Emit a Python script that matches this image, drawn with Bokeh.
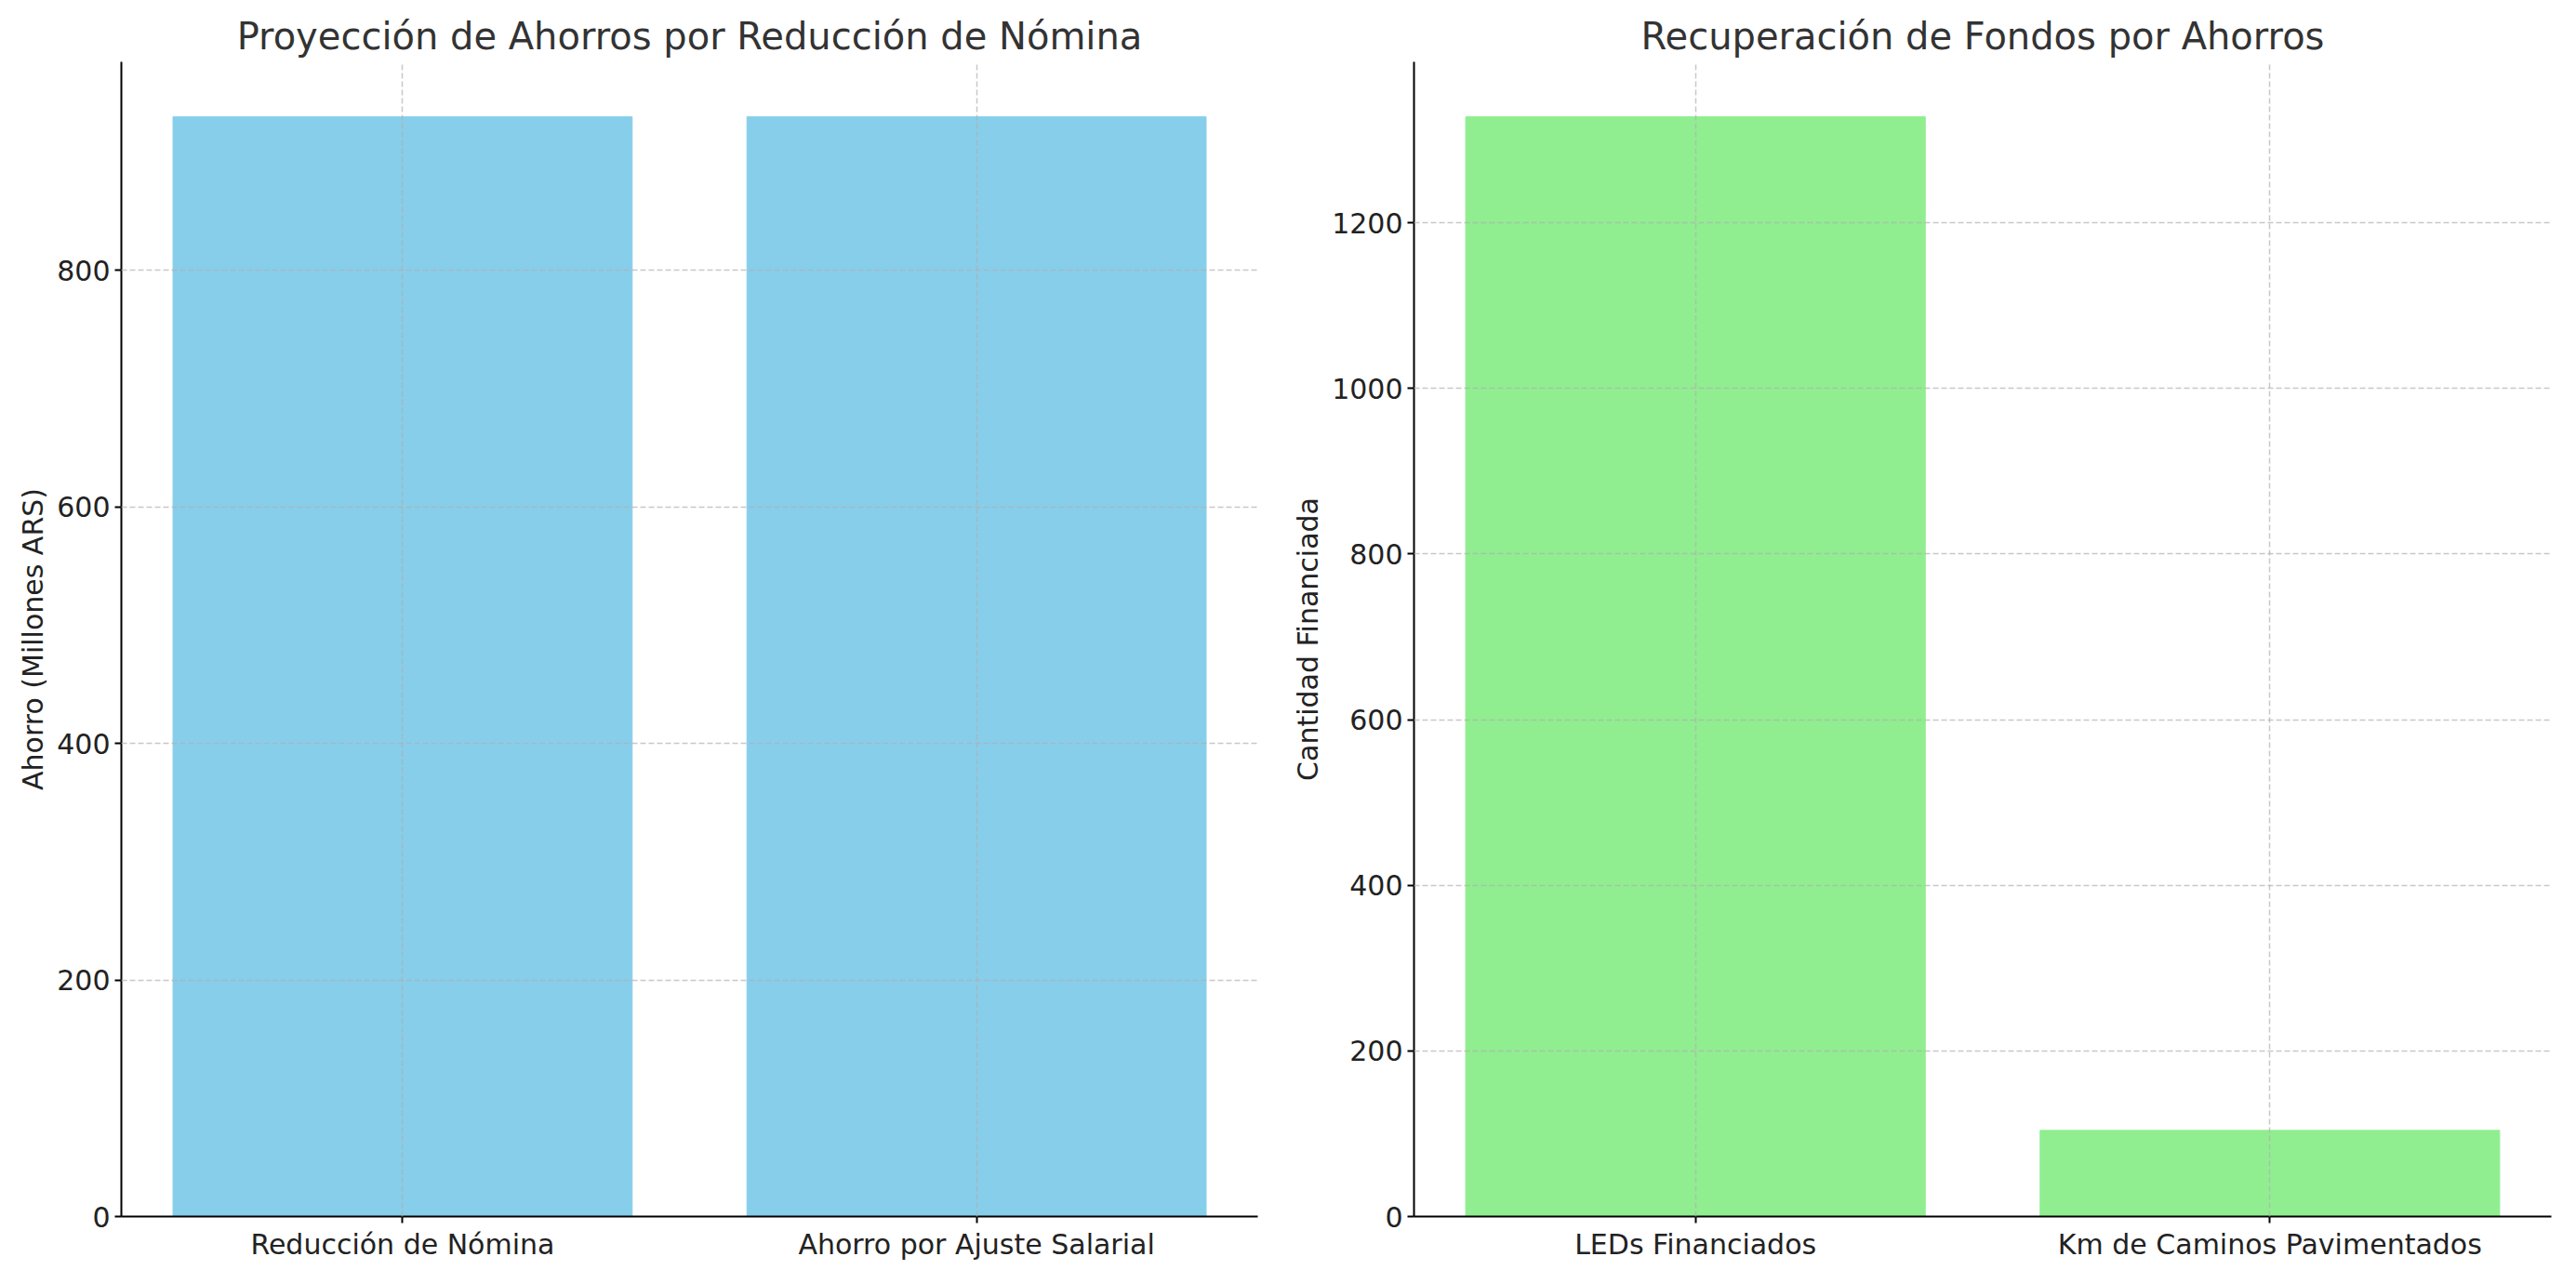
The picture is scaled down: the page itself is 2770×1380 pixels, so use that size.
from bokeh.plotting import figure
from bokeh.layouts import row
from bokeh.models import Range1d, FixedTicker
from bokeh.embed import file_html
from bokeh.resources import INLINE

nomina_cats = ["Reducción de Nómina", "Ahorro por Ajuste Salarial"]
nomina_vals = [930, 930]

fondos_cats = ["LEDs Financiados", "Km de Caminos Pavimentados"]
fondos_vals = [1328, 104]


def hacer_grafica(titulo, cats, vals, color, ylabel, ticks, bl, br):
    xs = list(range(len(cats)))
    g = figure(width=1376, height=1364, output_backend="svg", toolbar_location=None,
               x_range=Range1d(-0.49, len(cats) - 0.51), y_range=Range1d(0, max(vals) * 1.05),
               min_border_left=bl, min_border_right=br, min_border_top=66, min_border_bottom=56)
    g.vbar(x=xs, top=vals, width=0.8, color=color)
    g.title.text = titulo
    g.title.align = "center"
    g.title.text_font = "DejaVu Sans"
    g.title.text_font_size = "40px"
    g.title.text_font_style = "normal"
    g.title.text_color = "#333333"
    g.outline_line_color = None
    g.xaxis.ticker = FixedTicker(ticks=xs)
    g.xaxis.major_label_overrides = {i: c for i, c in enumerate(cats)}
    g.yaxis.ticker = FixedTicker(ticks=ticks)
    g.yaxis.axis_label = ylabel
    for ax in (g.xaxis, g.yaxis):
        ax.major_label_text_font = "DejaVu Sans"
        ax.major_label_text_font_size = "30px"
        ax.major_label_text_color = "#222222"
        ax.axis_label_text_font = "DejaVu Sans"
        ax.axis_label_text_font_size = "30px"
        ax.axis_label_text_font_style = "normal"
        ax.axis_label_text_color = "#222222"
        ax.minor_tick_line_color = None
        ax.major_tick_in = 0
        ax.major_tick_out = 7
        ax.axis_line_width = 2
        ax.major_tick_line_width = 2
    for gr in (g.xgrid, g.ygrid):
        gr.grid_line_color = "#b0b0b0"
        gr.grid_line_alpha = 0.7
        gr.grid_line_dash = "6 3"
        gr.grid_line_width = 1.5
        gr.level = "overlay"
    return g


p1 = hacer_grafica("Proyección de Ahorros por Reducción de Nómina", nomina_cats, nomina_vals,
                   "#87CEEB", "Ahorro (Millones ARS)", [0, 200, 400, 600, 800], 130, 24)
p2 = hacer_grafica("Recuperación de Fondos por Ahorros", fondos_cats, fondos_vals,
                   "#90EE90", "Cantidad Financiada", [0, 200, 400, 600, 800, 1000, 1200], 144, 9)

p = row(p1, p2)
open("out.html", "w").write(file_html(p, INLINE))
